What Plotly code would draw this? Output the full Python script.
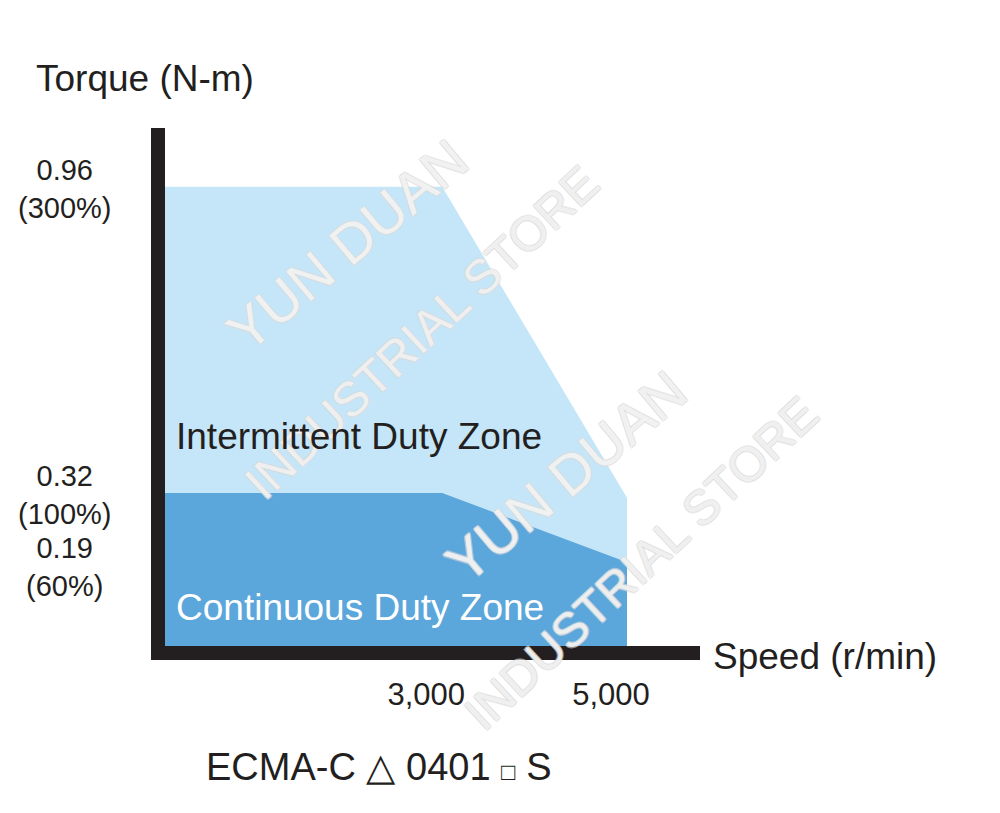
# -*- coding: utf-8 -*-
# what : torque - speed curve (ECMA-C 0401)
#---------------------------------------------------------------------------
import plotly.graph_objects as go

#---------------------------------------------------
# data
speed = [0, 3000, 5000]
torque_int = [0.96, 0.96, 0.31]    # intermittent duty
torque_cont = [0.32, 0.32, 0.175]  # continuous duty
ytick_vals = [0.96, 0.32, 0.19]
ytick_text = ["0.96<br>(300%)", "0.32<br>(100%)", "0.19<br>(60%)"]
xtick_vals = [3000, 5000]
xtick_text = ["3,000", "5,000"]
zone_names = ["Intermittent Duty Zone", "Continuous Duty Zone"]
watermark = ["YUN DUAN", "INDUSTRIAL STORE"]

FONT = "Liberation Sans, Arial, Helvetica, sans-serif"
LIGHT = "#c5e6f8"
DARK = "#5ba6db"
INK = "#231f20"

#---------------
def mk_fig():
  fig = go.Figure()
  fig.add_trace(go.Scatter(x=speed, y=torque_int, fill="tozeroy", mode="lines",
                           line=dict(width=0), fillcolor=LIGHT, hoverinfo="skip"))
  fig.add_trace(go.Scatter(x=speed, y=torque_cont, fill="tozeroy", mode="lines",
                           line=dict(width=0), fillcolor=DARK, hoverinfo="skip"))

  ann = []
  # watermark (faint outlined text)
  wm_shadow = "-1px -1px 0 #dadada, 1px -1px 0 #dadada, -1px 1px 0 #dadada, 1px 1px 0 #dadada"
  wm_col = "rgba(255,255,255,0.6)"
  for dx, dy in [(0.0, 0.0), (0.41, -0.447)]:
    ann.append(dict(x=0.340 + dx, xref="paper", y=0.774 + dy, yref="paper", text=watermark[0],
                    showarrow=False, textangle=-40, xanchor="center", yanchor="middle",
                    font=dict(size=56, color=wm_col, family=FONT, shadow=wm_shadow)))
    ann.append(dict(x=0.480 + dx, xref="paper", y=0.606 + dy, yref="paper", text=watermark[1],
                    showarrow=False, textangle=-43, xanchor="center", yanchor="middle",
                    font=dict(size=48, color=wm_col, family=FONT, shadow=wm_shadow)))
  # y labels (centered two-line text); the lowest one sits a bit under its value
  for v, t in zip(ytick_vals, ytick_text):
    ys = -12 if v < 0.25 else -2
    ann.append(dict(x=-0.187, xref="paper", y=v, yref="y", text=t, showarrow=False,
                    xanchor="center", yanchor="middle", align="center", yshift=ys,
                    font=dict(size=29, color=INK, family=FONT)))
  # zone names
  ann.append(dict(x=100, y=0.437, text=zone_names[0], showarrow=False, xanchor="left",
                  font=dict(size=37, color=INK, family=FONT)))
  ann.append(dict(x=100, y=0.08, text=zone_names[1], showarrow=False, xanchor="left",
                  font=dict(size=37, color="white", family=FONT)))
  # axis titles
  ann.append(dict(x=-0.245, xref="paper", y=1.0965, yref="paper", text="Torque (N-m)",
                  showarrow=False, xanchor="left", yanchor="middle",
                  font=dict(size=37, color=INK, family=FONT)))
  ann.append(dict(x=1.02, xref="paper", y=-0.021, yref="paper", text="Speed (r/min)",
                  showarrow=False, xanchor="left", yanchor="middle",
                  font=dict(size=37, color=INK, family=FONT)))
  ann.append(dict(x=0.072, xref="paper", y=-0.234, yref="paper",
                  text="ECMA-C △ 0401 <span style='font-size:24px'>□</span> S",
                  showarrow=False, xanchor="left", yanchor="middle",
                  font=dict(size=38, color=INK, family=FONT)))

  fig.update_layout(
    width=1000, height=813,
    margin=dict(l=165, r=300, t=128, b=167),
    paper_bgcolor="white", plot_bgcolor="white",
    showlegend=False,
    annotations=ann,
    xaxis=dict(range=[0, 5790], showgrid=False, zeroline=False,
               showline=True, linewidth=14, linecolor=INK,
               tickvals=xtick_vals, ticktext=xtick_text, ticks="",
               ticklabelshift=-16, ticklabelstandoff=8,
               tickfont=dict(size=31, color=INK, family=FONT)),
    yaxis=dict(range=[0, 1.083], showgrid=False, zeroline=False,
               showline=True, linewidth=14, linecolor=INK,
               showticklabels=False, ticks=""),
  )
  return fig

if __name__ == "__main__":
  fig = mk_fig()
  # page body has a default 8px margin -> remove it so the figure sits at 0,0
  fig.write_html("out.html", config={"displayModeBar": False},
                 post_script="document.body.style.margin='0px';")
